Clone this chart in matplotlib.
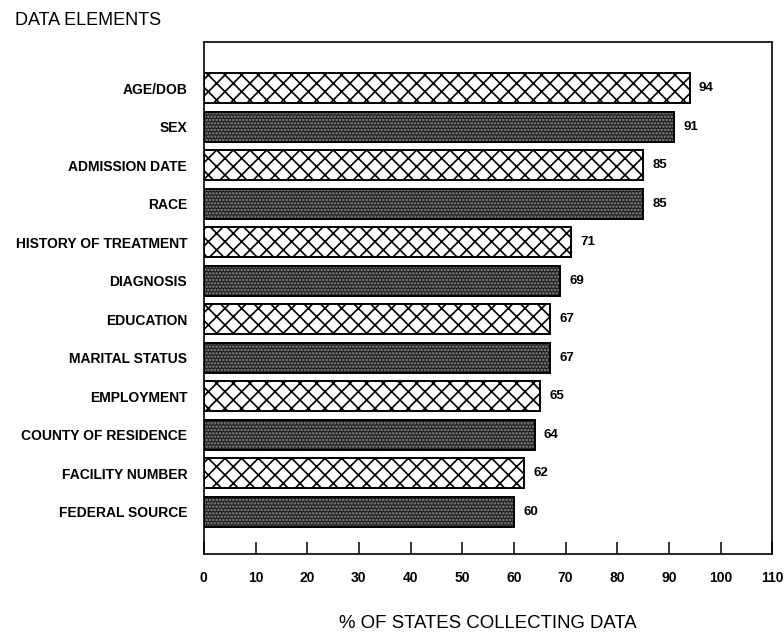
import numpy as np
import matplotlib.pyplot as plt

plt.rcParams['font.family'] = ['Liberation Sans', 'DejaVu Sans']
plt.rcParams['hatch.linewidth'] = 1.2

elements = ["AGE/DOB", "SEX", "ADMISSION DATE", "RACE", "HISTORY OF TREATMENT",
            "DIAGNOSIS", "EDUCATION", "MARITAL STATUS", "EMPLOYMENT",
            "COUNTY OF RESIDENCE", "FACILITY NUMBER", "FEDERAL SOURCE"]
pct_states = [94, 91, 85, 85, 71, 69, 67, 67, 65, 64, 62, 60]
x_ticks = [0, 10, 20, 30, 40, 50, 60, 70, 80, 90, 100, 110]

fig = plt.figure(figsize=(7.84, 6.34), dpi=100)
ax = fig.add_axes([0.260, 0.126, 0.725, 0.808])

n = len(elements)
y = np.arange(n)[::-1]
h = 0.78

for i, (yy, v) in enumerate(zip(y, pct_states)):
    if i % 2 == 0:
        # open bars with a diagonal cross-hatch
        ax.barh(yy, v, height=h, color='white', edgecolor='black',
                hatch='xx', linewidth=1.4, zorder=2)
    else:
        # dark screened bars: near-black fill with fine light dots on top
        ax.barh(yy, v, height=h, color='#1f1f1f', edgecolor='none', zorder=2)
        ax.barh(yy, v, height=h, color='none', edgecolor='#8c8c8c',
                hatch='.....', linewidth=0, zorder=3)
        ax.barh(yy, v, height=h, color='none', edgecolor='black',
                linewidth=1.4, zorder=4)
    ax.text(v + 1.8, yy, str(v), ha='left', va='center', fontsize=9.5,
            fontweight='bold')

ax.set_xlim(0, 110)
ax.set_ylim(-1.1, n - 1 + 1.2)
ax.set_xticks(x_ticks)
ax.set_xticklabels([str(t) for t in x_ticks], fontsize=10, fontweight='bold')
ax.tick_params(axis='x', direction='in', length=8.5, width=1.1, pad=12)
ax.set_yticks(y)
ax.set_yticklabels(elements, fontsize=10, fontweight='bold')
ax.tick_params(axis='y', length=0, pad=12)
for s in ax.spines.values():
    s.set_linewidth(1.2)

ax.set_xlabel("% OF STATES COLLECTING DATA", fontsize=13.4, labelpad=22)
fig.text(0.019, 0.968, "DATA ELEMENTS", fontsize=13, ha='left', va='center')

fig.savefig("out.png", dpi=100)
